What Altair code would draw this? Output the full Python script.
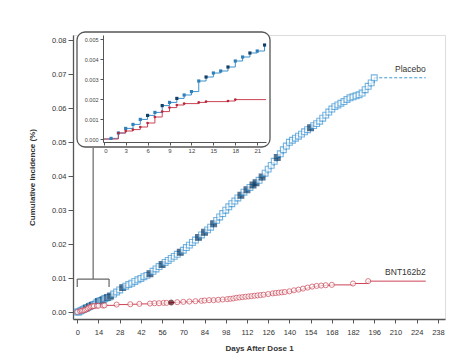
import altair as alt
import pandas as pd

# ---------------- data ----------------
placebo_days = list(range(0, 23)) + list(range(24, 198, 2))
placebo_vals = [
    0.0, 0.00003, 0.0003, 0.00053, 0.00073, 0.00098, 0.00118, 0.00133, 0.00167, 0.00183,
    0.00203, 0.0022, 0.00237, 0.0029, 0.0031, 0.0033, 0.0034, 0.0036, 0.0039, 0.0041,
    0.0043, 0.0044, 0.0047,
    0.0053, 0.0059, 0.0065, 0.0072, 0.0076, 0.0081, 0.0085, 0.0090, 0.0095, 0.0099,
    0.0104, 0.0108, 0.0113, 0.0120, 0.0127, 0.0134, 0.0140, 0.0146, 0.0152, 0.0158,
    0.0164, 0.0170, 0.0176, 0.0182, 0.0190, 0.0197, 0.0205, 0.0212, 0.0220, 0.0227,
    0.0235, 0.0242, 0.0250, 0.0260, 0.0270, 0.0280, 0.0290, 0.0300, 0.0310, 0.0319,
    0.0327, 0.0336, 0.0344, 0.0353, 0.0360, 0.0367, 0.0374, 0.0381, 0.0388, 0.0398,
    0.0409, 0.0421, 0.0432, 0.0444, 0.0455, 0.0466, 0.0478, 0.0489, 0.0500, 0.0506,
    0.0512, 0.0518, 0.0524, 0.0531, 0.0537, 0.0543, 0.0549, 0.0555, 0.0562, 0.0571,
    0.0580, 0.0589, 0.0598, 0.0605, 0.0610, 0.0615, 0.0620, 0.0626, 0.0631, 0.0634,
    0.0637, 0.0640, 0.0645, 0.0655, 0.0665, 0.0675, 0.0690,
]
placebo_dark_days = [6, 8, 10, 14, 17, 20, 22, 30, 48, 56, 68, 80, 84, 90, 108, 112,
                     116, 118, 122, 132, 154]

bnt_days = [0, 2, 3, 4, 5, 6, 7, 8, 9, 10, 11, 13, 14, 17, 18,
            26, 35, 41, 48, 51, 54, 57, 59, 62, 66, 70, 74, 78, 82, 84, 87, 90, 93, 96,
            99, 101, 103, 105, 107, 109, 111, 113, 115, 117, 119, 121, 123, 126, 129,
            131, 133, 135, 137, 140, 143, 146, 149, 152, 155, 158, 161, 164, 168, 182, 192]
bnt_vals = [0.0, 0.0003, 0.0004, 0.00047, 0.0006, 0.0008, 0.0011, 0.00137, 0.00157,
            0.0017, 0.00177, 0.00183, 0.00187, 0.0019, 0.00197,
            0.0022, 0.0023, 0.0024, 0.0025, 0.0026, 0.0026, 0.0027, 0.0027, 0.0028,
            0.0029, 0.0030, 0.0031, 0.0032, 0.0033, 0.0034, 0.0035, 0.0035, 0.0036,
            0.0037, 0.0038, 0.0039, 0.0040, 0.0042, 0.0043, 0.0044, 0.0045, 0.0046,
            0.0047, 0.0048, 0.0049, 0.0050, 0.0051, 0.0053, 0.0055, 0.0056, 0.0057,
            0.0058, 0.0059, 0.0061, 0.0064, 0.0066, 0.0069, 0.0072, 0.0075, 0.0077,
            0.0078, 0.0079, 0.0080, 0.0084, 0.0091]
bnt_dark_days = [62]

group_names = ["Placebo", "BNT162b2"]
x_ticks = list(range(0, 239, 14))
y_ticks = [0.0, 0.01, 0.02, 0.03, 0.04, 0.05, 0.06, 0.07, 0.08]
inset_x_ticks = [0, 3, 6, 9, 12, 15, 18, 21]
inset_y_ticks = [0.0, 0.001, 0.002, 0.003, 0.004, 0.005]
end_day = 230          # where the follow-up lines stop
inset_end_day = 22.2
zoom_days = [0, 21]    # bracket range on the main axis

# ---------------- tables ----------------
pl = pd.DataFrame({"day": placebo_days, "v": placebo_vals})
pl["dark"] = pl["day"].isin(placebo_dark_days)
bn = pd.DataFrame({"day": bnt_days, "v": bnt_vals})
bn["dark"] = bn["day"].isin(bnt_dark_days)

ext = pd.DataFrame({
    "g": group_names,
    "d0": [placebo_days[-1], bnt_days[-1]],
    "d1": [end_day, end_day],
    "v": [placebo_vals[-1], bnt_vals[-1]],
})

BLUE = "#3f96d4"
BLUE_DARK = "#0c3a63"
RED = "#cc4455"
RED_DARK = "#4a0810"
FONT = "Liberation Sans"

xs = alt.Scale(domain=[-2.8, 242.7], nice=False, zero=False)
ys = alt.Scale(domain=[-0.00205, 0.0816], nice=False, zero=False)

xaxis = alt.Axis(values=x_ticks, tickCount=len(x_ticks) + 2, title="Days After Dose 1",
                 grid=False, tickSize=4,
                 labelFontSize=7.5, labelColor="#333", labelPadding=5, titleFontSize=8,
                 titleFontWeight="bold", titleColor="#333", titlePadding=9,
                 domainColor="#555", tickColor="#555", domainWidth=1.3, labelFont=FONT,
                 titleFont=FONT, labelOverlap=False, labelBound=False)
yaxis = alt.Axis(values=y_ticks, tickCount=len(y_ticks) + 2, format=".2f",
                 title="Cumulative Incidence (%)", grid=False,
                 tickSize=5, labelFontSize=7.5, labelColor="#333", labelPadding=2,
                 titleFontSize=8, titleFontWeight="bold", titleColor="#333", titlePadding=15,
                 domainColor="#555", tickColor="#555", domainWidth=1.3, labelFont=FONT,
                 titleFont=FONT, labelOverlap=False, labelBound=False)

X = alt.X("day:Q", scale=xs, axis=xaxis)
Y = alt.Y("v:Q", scale=ys, axis=yaxis)

pl_line = alt.Chart(pl).mark_line(interpolate="step-after", color=BLUE, strokeWidth=1).encode(x=X, y=Y)
pl_pts = alt.Chart(pl).mark_point(shape="square", size=34, strokeWidth=1.1, filled=False).encode(
    x="day:Q", y="v:Q",
    color=alt.condition("datum.dark", alt.value(BLUE_DARK), alt.value(BLUE)),
    fill=alt.condition("datum.dark", alt.value(BLUE_DARK), alt.value("white")),
    fillOpacity=alt.value(1),
)
bn_line = alt.Chart(bn).mark_line(interpolate="step-after", color=RED, strokeWidth=1).encode(x="day:Q", y="v:Q")
bn_pts = alt.Chart(bn).mark_point(shape="circle", size=26, strokeWidth=1, filled=False).encode(
    x="day:Q", y="v:Q",
    color=alt.condition("datum.dark", alt.value(RED_DARK), alt.value(RED)),
    fill=alt.condition("datum.dark", alt.value(RED_DARK), alt.value("white")),
    fillOpacity=alt.value(1),
)
pl_ext = alt.Chart(ext).transform_filter(alt.datum.g == "Placebo").mark_rule(
    color=BLUE, strokeDash=[3, 2], strokeWidth=1).encode(x="d0:Q", x2="d1:Q", y="v:Q")
bn_ext = alt.Chart(ext).transform_filter(alt.datum.g == "BNT162b2").mark_rule(
    color=RED, strokeWidth=1).encode(x="d0:Q", x2="d1:Q", y="v:Q")
labels = alt.Chart(ext).mark_text(align="right", baseline="bottom", dy=-4, fontSize=8.5,
                                  font=FONT, color="#333").encode(x="d1:Q", y="v:Q", text="g:N")

# bracket showing the zoomed range
br = pd.DataFrame({"a": [zoom_days[0]], "b": [zoom_days[1]], "m": [sum(zoom_days) / 2]})
br_h = alt.Chart(br).mark_rule(color="#666", strokeWidth=1.2).encode(
    x="a:Q", x2="b:Q", y=alt.datum(0.0097))
br_l = alt.Chart(br).mark_rule(color="#666", strokeWidth=1.2).encode(
    x="a:Q", y=alt.datum(0.0097), y2=alt.datum(0.0074))
br_r = alt.Chart(br).mark_rule(color="#666", strokeWidth=1.2).encode(
    x="b:Q", y=alt.datum(0.0097), y2=alt.datum(0.0074))
br_v = alt.Chart(br).mark_rule(color="#666", strokeWidth=1.2).encode(
    x="m:Q", y=alt.datum(0.0097), y2=alt.datum(0.0483))

frame = alt.Chart(br).mark_rect(cornerRadius=8, fill="white", stroke="#555",
                                strokeWidth=1.3).encode(
    x=alt.value(4), x2=alt.value(197), y=alt.value(-3), y2=alt.value(112))

main = alt.layer(pl_line, pl_ext, bn_ext, bn_line, pl_pts, bn_pts, labels,
                 br_h, br_l, br_r, br_v, frame)

# ---------------- inset ----------------
ixs = alt.Scale(domain=[-0.1, inset_end_day], range=[30, 193], nice=False, zero=False)
iys = alt.Scale(domain=[-0.00015, 0.0052], range=[107, 0], nice=False, zero=False)
ixaxis = alt.Axis(values=inset_x_ticks, tickCount=12, orient="bottom", offset=-177, title=None,
                  grid=False, tickSize=3, labelFontSize=6, labelColor="#444", labelPadding=2,
                  domainColor="#555", tickColor="#555", labelFont=FONT, zindex=2,
                  labelOverlap=False, labelBound=False)
iyaxis = alt.Axis(values=inset_y_ticks, tickCount=8, orient="left", offset=-30, title=None,
                  grid=False, format=".3f", tickSize=3, labelFontSize=5.5, labelColor="#444",
                  labelPadding=2, domainColor="#555", tickColor="#555", labelFont=FONT,
                  zindex=2, labelOverlap=False, labelBound=False)

ipl = pl[pl["day"] <= inset_end_day]
ibn = bn[bn["day"] <= inset_end_day]
ibn_tail = pd.DataFrame({"d0": [bnt_days[len(ibn) - 1]], "d1": [inset_end_day],
                         "v": [ibn["v"].iloc[-1]]})

IX = alt.X("day:Q", scale=ixs, axis=ixaxis)
IY = alt.Y("v:Q", scale=iys, axis=iyaxis)
i_pl_line = alt.Chart(ipl).mark_line(interpolate="step-after", color="#3a90cc", strokeWidth=1).encode(x=IX, y=IY)
i_bn_line = alt.Chart(ibn).mark_line(interpolate="step-after", color=RED, strokeWidth=1).encode(x="day:Q", y="v:Q")
i_bn_tail = alt.Chart(ibn_tail).mark_rule(color=RED, strokeWidth=1).encode(x="d0:Q", x2="d1:Q", y="v:Q")
i_pl_pts = alt.Chart(ipl[ipl["day"] > 0]).mark_point(shape="square", size=10, filled=True, opacity=1).encode(
    x="day:Q", y="v:Q",
    color=alt.condition("datum.dark", alt.value("#123f66"), alt.value("#2f7fb8")))
i_bn_pts = alt.Chart(ibn[ibn["day"] > 0]).mark_point(shape="circle", size=7, filled=True, opacity=1,
                                                     color="#b8283a").encode(x="day:Q", y="v:Q")

inset = alt.layer(i_pl_line, i_bn_line, i_bn_tail, i_pl_pts, i_bn_pts)

chart = alt.layer(main, inset).resolve_scale(x="independent", y="independent").properties(
    width=372, height=284,
    autosize=alt.AutoSizeParams(type="none"),
    padding={"left": 73, "top": 35, "right": 29, "bottom": 38},
).configure_view(stroke=None).configure(background="white").configure_axis(
    labelOverlap=False, labelBound=False)

chart.save("out.html", embed_options={"renderer": "svg", "actions": False})
